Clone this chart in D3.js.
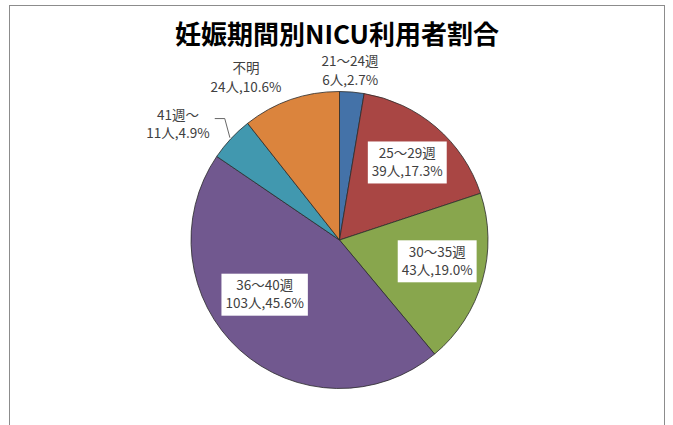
<!DOCTYPE html>
<html>
<head>
<meta charset="utf-8">
<script src="https://cdn.jsdelivr.net/npm/d3@7"></script>
<style>
  html, body { margin: 0; padding: 0; background: #fff; }
  svg { display: block; }
</style>
</head>
<body>
<svg id="chart" width="673" height="425"></svg>
<script>
// data (people per gestation period)
const categories = ["21～24週", "25～29週", "30～35週", "36～40週", "41週～", "不明"];
const counts = [6, 39, 43, 103, 11, 24];
const percentLabels = ["2.7%", "17.3%", "19.0%", "45.6%", "4.9%", "10.6%"];
const colors = ["#4472A8", "#A94644", "#88A64D", "#71588F", "#4198AF", "#DB843D"];

const width = 673, height = 425;
const cx = 339.5, cy = 240, radius = 148.5;
const FONT = "'Noto Sans CJK JP', 'Noto Sans', sans-serif";

const svg = d3.select("#chart");

// chart frame (runs off the bottom in the reference)
svg.append("rect")
    .attr("x", 9.5).attr("y", 5.5)
    .attr("width", 655).attr("height", 440)
    .attr("fill", "#fff")
    .attr("stroke", "#8c8c8c")
    .attr("stroke-width", 1);

// title
svg.append("text")
    .attr("x", 337).attr("y", 44)
    .attr("text-anchor", "middle")
    .attr("font-family", FONT)
    .attr("font-weight", "bold")
    .attr("font-size", "26px")
    .attr("fill", "#000")
    .text("妊娠期間別NICU利用者割合");

const pie = d3.pie().sort(null).value(d => d.value);
const arcs = pie(categories.map((c, i) => ({ name: c, value: counts[i], pct: percentLabels[i], i })));

const arc = d3.arc().innerRadius(0).outerRadius(radius);

const g = svg.append("g").attr("transform", `translate(${cx},${cy})`);

g.selectAll("path")
    .data(arcs)
    .join("path")
    .attr("d", arc)
    .attr("fill", d => colors[d.data.i])
    .attr("stroke", "#2b2b2b")
    .attr("stroke-width", 0.8)
    .attr("stroke-linejoin", "round");

// label placement: big slices get a boxed label inside, the small ones sit outside
const insideArc = d3.arc().innerRadius(radius * 0.67).outerRadius(radius * 0.67);
const outsideArc = d3.arc().innerRadius(radius * 1.1).outerRadius(radius * 1.1);
// small nudges to match where the spreadsheet put each label
const nudge = [[-3, -6], [3, -2], [2, -6], [-8, -19], [-42, -4], [-40, -7.5]];

const lineGap = 18.5;

arcs.forEach((d, k) => {
    const inside = d.data.value / d3.sum(counts) > 0.15;
    const p = (inside ? insideArc : outsideArc).centroid(d);
    const x = p[0] + nudge[k][0];
    const y = p[1] + nudge[k][1];

    const lg = g.append("g").attr("transform", `translate(${x},${y})`);
    const t = lg.append("text")
        .attr("text-anchor", "middle")
        .attr("font-family", FONT)
        .attr("font-size", "13.5px")
        .attr("fill", "#404040");
    t.append("tspan").attr("x", 0).attr("y", -lineGap / 2 + 4.5).text(d.data.name);
    t.append("tspan").attr("x", 0).attr("y", lineGap / 2 + 4.5)
        .text(`${d.data.value}人,${d.data.pct}`);

    if (inside) {
        const bb = t.node().getBBox();
        lg.insert("rect", "text")
            .attr("x", bb.x - 4).attr("y", -21)
            .attr("width", bb.width + 8).attr("height", 42)
            .attr("fill", "#fff");
    }

    // leader line for the small left-side slice pushed away from its wedge
    if (!inside && Math.sin((d.startAngle + d.endAngle) / 2) < -0.5) {
        const bb = t.node().getBBox();
        const edge = d3.arc().innerRadius(radius).outerRadius(radius).centroid(d);
        const sx = x + bb.x + bb.width + 5;
        const sy = y - 6;
        g.append("polyline")
            .attr("points", `${sx},${sy} ${sx + 10},${sy} ${edge[0] - 1},${edge[1] - 1}`)
            .attr("fill", "none")
            .attr("stroke", "#404040")
            .attr("stroke-width", 0.8);
    }
});
</script>
</body>
</html>
